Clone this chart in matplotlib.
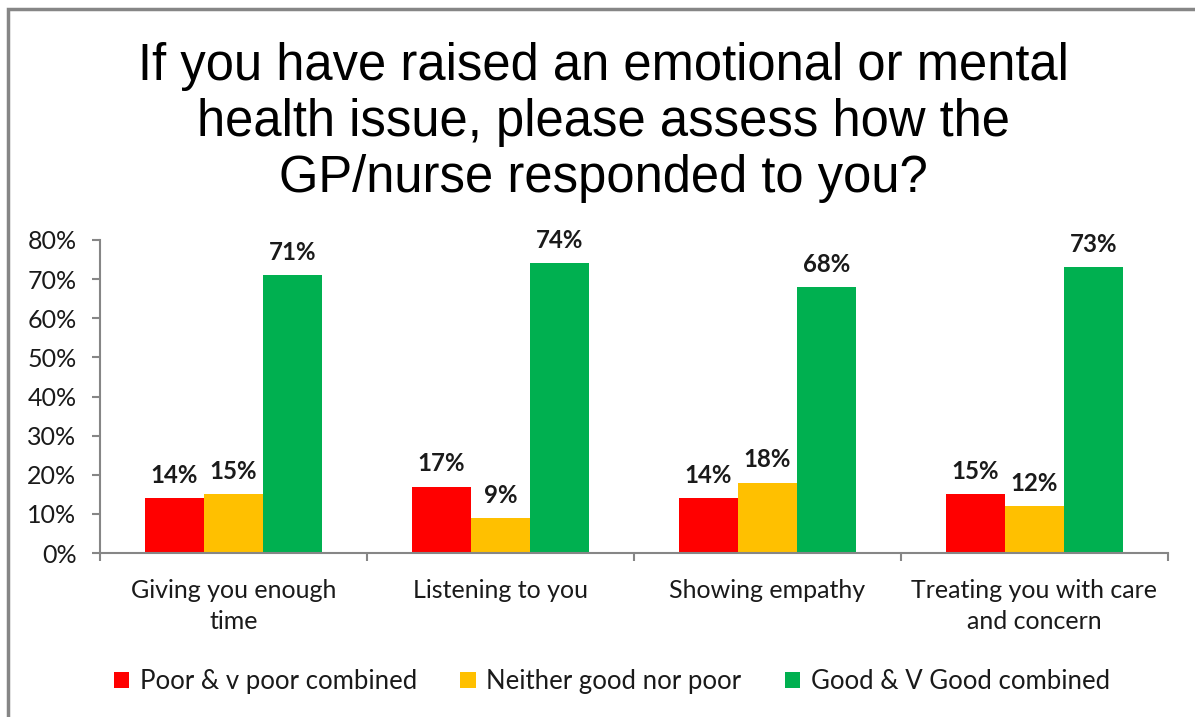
import matplotlib.pyplot as plt
import numpy as np
from matplotlib.patches import Rectangle

categories = ["Giving you enough\ntime", "Listening to you", "Showing empathy",
              "Treating you with care\nand concern"]
series = ["Poor & v poor combined", "Neither good nor poor", "Good & V Good combined"]
poor = [14, 17, 14, 15]
neither = [15, 9, 18, 12]
good = [71, 74, 68, 73]
colors = ["#ff0000", "#ffc000", "#00b050"]

fig = plt.figure(figsize=(11.95, 7.17), dpi=100)
ax = fig.add_axes([0.0837, 0.2287, 0.8937, 0.4366])

# chart border (only top and left edges fall inside the image)
fig.patches.append(Rectangle((8 / 1195, -0.1), 1.2, 1 - 9 / 717 + 0.1,
                             transform=fig.transFigure, fill=False,
                             edgecolor="#868686", linewidth=2.5))

x = np.arange(len(categories))
w = 0.221
for i, (vals, name, c) in enumerate(zip([poor, neither, good], series, colors)):
    bars = ax.bar(x + (i - 1) * w, vals, w, color=c, label=name, zorder=2)
    for b, v in zip(bars, vals):
        ax.annotate(f"{v}%", (b.get_x() + b.get_width() / 2, v),
                    xytext=(0, 8), textcoords="offset points",
                    ha="center", va="bottom", fontsize=17.3,
                    fontweight="bold", family="Lato", color="#1a1a1a")

ax.set_xlim(-0.5, len(categories) - 0.5)
ax.set_ylim(0, 80)
ax.set_yticks(range(0, 81, 10))
ax.set_yticklabels([f"{t}%" for t in range(0, 81, 10)])

ax.set_xticks(np.arange(-0.5, len(categories), 1))
ax.set_xticklabels([])
ax.set_xticks(x, minor=True)
ax.set_xticklabels(categories, minor=True)
ax.tick_params(axis="x", which="minor", length=0, pad=19)
ax.tick_params(axis="x", which="major", length=6, width=1.5, color="#868686")
ax.tick_params(axis="y", length=6, width=1.5, color="#868686", pad=11)
for lab in ax.get_xticklabels(minor=True) + ax.get_yticklabels():
    lab.set_family("Lato")
    lab.set_fontsize(18)
    lab.set_color("#1a1a1a")
    lab.set_linespacing(1.4)

for s in ["top", "right"]:
    ax.spines[s].set_visible(False)
for s in ["left", "bottom"]:
    ax.spines[s].set_color("#868686")
    ax.spines[s].set_linewidth(1.5)

fig.text(0.505, 0.942, "If you have raised an emotional or mental\n"
         "health issue, please assess how the\nGP/nurse responded to you?",
         ha="center", va="top", fontsize=36.5, family="Liberation Sans",
         linespacing=1.19, color="black")

leg = fig.legend(loc="center", bbox_to_anchor=(0.512, 0.049), ncol=3, frameon=False,
                 prop={"family": "Lato", "size": 18.5}, handlelength=0.6,
                 handleheight=0.6, handletextpad=0.4, columnspacing=1.7)
for t in leg.get_texts():
    t.set_color("#1a1a1a")

fig.savefig("out.png", dpi=100)
